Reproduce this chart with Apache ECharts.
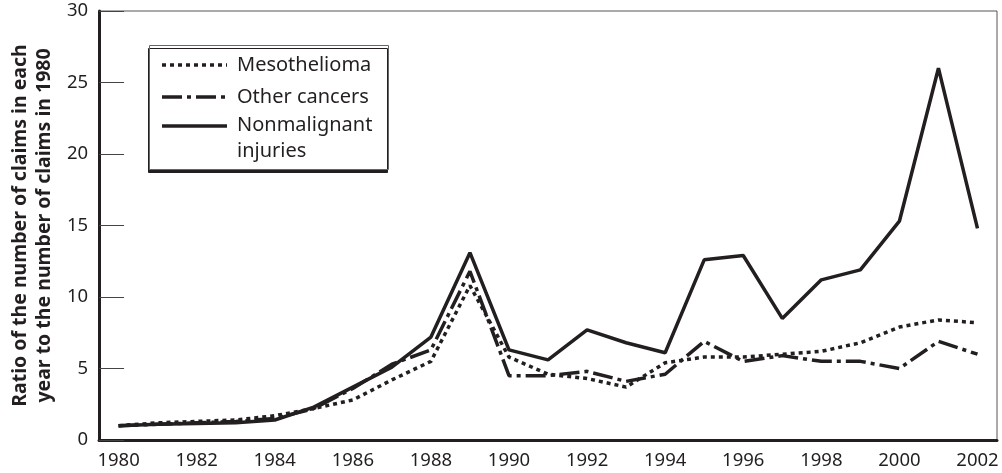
<!DOCTYPE html>
<html>
<head>
<meta charset="utf-8">
<script src="https://cdn.jsdelivr.net/npm/echarts@6/dist/echarts.min.js"></script>
<style>
  html, body { margin: 0; padding: 0; background: #fff; }
  #chart { width: 1002px; height: 473px; }
</style>
</head>
<body>
<div id="chart"></div>
<script>
// 年份
var years = ['1980', '1981', '1982', '1983', '1984', '1985', '1986', '1987', '1988', '1989', '1990', '1991',
    '1992', '1993', '1994', '1995', '1996', '1997', '1998', '1999', '2000', '2001', '2002'];
// 各类索赔与1980年之比
var mesothelioma = [1.0, 1.2, 1.3, 1.4, 1.7, 2.2, 2.8, 4.2, 5.5, 10.8, 5.8, 4.6, 4.3, 3.7, 5.4, 5.8,
    5.8, 6.0, 6.2, 6.8, 7.9, 8.4, 8.2];
var otherCancers = [1.0, 1.1, 1.2, 1.3, 1.5, 2.2, 3.6, 5.3, 6.3, 11.8, 4.5, 4.5, 4.8, 4.1, 4.6, 6.9,
    5.5, 5.9, 5.5, 5.5, 5.0, 6.9, 6.0];
var nonmalignant = [1.0, 1.1, 1.15, 1.2, 1.4, 2.3, 3.7, 5.1, 7.2, 13.1, 6.3, 5.6, 7.7, 6.8, 6.1, 12.6,
    12.9, 8.5, 11.2, 11.9, 15.3, 26.0, 14.8];
var seriesNames = ['Mesothelioma', 'Other cancers', 'Nonmalignant\ninjuries'];

var ink = '#231f20';
var font = 'Noto Sans';
var dotted = [4, 4];
var dashDot = [20, 5, 4, 5];
var legendFont = '20px "Noto Sans"';

var chart = echarts.init(document.getElementById('chart'));
var option = {
    animation: false,
    textStyle: { fontFamily: font },
    grid: {
        left: 92, right: 5, top: 11, bottom: 33,
        show: true, borderColor: '#555', borderWidth: 1
    },
    xAxis: {
        type: 'category',
        data: years,
        boundaryGap: true,
        axisLine: { lineStyle: { color: ink, width: 3 } },
        axisTick: { inside: true, length: 24, interval: 0, lineStyle: { color: '#444', width: 1 } },
        axisLabel: { interval: 1, color: ink, fontSize: 18.5, margin: 11, fontFamily: font }
    },
    yAxis: {
        type: 'value',
        min: 0, max: 30, interval: 5,
        name: 'Ratio of the number of claims in each\nyear to the number of claims in 1980',
        nameLocation: 'middle',
        nameRotate: 90,
        nameGap: 40,
        nameTextStyle: { color: ink, fontSize: 19.5, fontWeight: 'bold', lineHeight: 24, fontFamily: font },
        axisLine: { show: true, lineStyle: { color: ink, width: 3 } },
        axisTick: { show: true, inside: true, length: 25, lineStyle: { color: '#444', width: 1 } },
        axisLabel: { color: ink, fontSize: 18.5, margin: 11, fontFamily: font },
        splitLine: { show: false }
    },
    series: [{
        name: seriesNames[0], type: 'line', data: mesothelioma, symbol: 'none',
        lineStyle: { color: ink, width: 3.5, type: dotted }, z: 3
    }, {
        name: seriesNames[1], type: 'line', data: otherCancers, symbol: 'none',
        lineStyle: { color: ink, width: 3.5, type: dashDot }, z: 4
    }, {
        name: seriesNames[2], type: 'line', data: nonmalignant, symbol: 'none',
        lineStyle: { color: ink, width: 3.5 }, z: 5
    }],
    // 图例框
    graphic: [{
        type: 'rect', left: 149, top: 45, z: 10,
        shape: { width: 239, height: 124 },
        style: { fill: '#fff', stroke: '#666', lineWidth: 1, shadowColor: ink, shadowOffsetY: 3, shadowOffsetX: -1 }
    }, {
        type: 'line', z: 11, shape: { x1: 162, y1: 65, x2: 227, y2: 65 },
        style: { stroke: ink, lineWidth: 3.5, lineDash: dotted }
    }, {
        type: 'line', z: 11, shape: { x1: 162, y1: 97, x2: 227, y2: 97 },
        style: { stroke: ink, lineWidth: 3.5, lineDash: dashDot }
    }, {
        type: 'line', z: 11, shape: { x1: 162, y1: 126, x2: 227, y2: 126 },
        style: { stroke: ink, lineWidth: 3.5 }
    }, {
        type: 'text', left: 237, top: 52, z: 11,
        style: { text: seriesNames[0], fill: ink, font: legendFont, lineHeight: 26 }
    }, {
        type: 'text', left: 237, top: 84, z: 11,
        style: { text: seriesNames[1], fill: ink, font: legendFont, lineHeight: 26 }
    }, {
        type: 'text', left: 237, top: 112, z: 11,
        style: { text: seriesNames[2], fill: ink, font: legendFont, lineHeight: 26 }
    }]
};
chart.setOption(option);
</script>
</body>
</html>
